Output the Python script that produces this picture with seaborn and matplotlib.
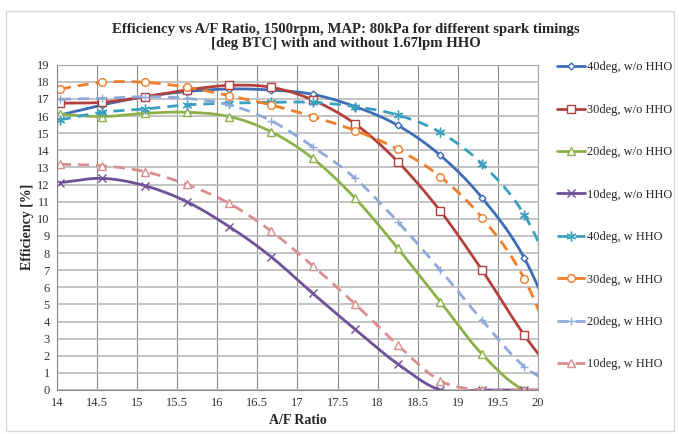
import numpy as np
import pandas as pd
import matplotlib
matplotlib.use("Agg")
import matplotlib.pyplot as plt
import seaborn as sns

# A/F ratio of each measurement (last point lies just past the axis end)
af_ratio = [14.04, 14.57, 15.10, 15.62, 16.15, 16.67, 17.19, 17.72, 18.25, 18.78, 19.30, 19.83, 20.36]

# Efficiency [%]
eff_40_wo = [16.06, 16.65, 17.13, 17.43, 17.58, 17.52, 17.27, 16.55, 15.46, 13.71, 11.23, 7.69, 2.0]
eff_30_wo = [16.75, 16.80, 17.13, 17.52, 17.79, 17.68, 16.94, 15.54, 13.34, 10.46, 7.01, 3.19, 0.0]
eff_20_wo = [16.10, 15.97, 16.16, 16.22, 15.97, 15.09, 13.53, 11.20, 8.28, 5.16, 2.10, 0.0, 0.0]
eff_10_wo = [12.11, 12.36, 11.93, 11.00, 9.54, 7.79, 5.65, 3.54, 1.52, 0.0, 0.0, 0.0, 0.0]
eff_40_w = [15.77, 16.22, 16.41, 16.65, 16.75, 16.80, 16.80, 16.55, 16.06, 15.05, 13.20, 10.22, 4.9]
eff_30_w = [17.58, 17.97, 17.97, 17.68, 17.19, 16.65, 15.97, 15.15, 14.06, 12.46, 10.07, 6.48, 0.5]
eff_20_w = [16.98, 17.03, 17.13, 17.03, 16.65, 15.73, 14.21, 12.36, 9.83, 7.01, 4.09, 1.36, 0.0]
eff_10_w = [13.18, 13.10, 12.75, 12.01, 10.90, 9.29, 7.26, 5.02, 2.63, 0.54, 0.0, 0.0, 0.0]

labels = ["40deg, w/o HHO", "30deg, w/o HHO", "20deg, w/o HHO", "10deg, w/o HHO",
          "40deg, w HHO", "30deg, w HHO", "20deg, w HHO", "10deg, w HHO"]
series = [eff_40_wo, eff_30_wo, eff_20_wo, eff_10_wo, eff_40_w, eff_30_w, eff_20_w, eff_10_w]
colors = ["#3E6DB5", "#B3403D", "#8DB14A", "#6E5197", "#3AA0BE", "#F07D2A", "#8EA9DB", "#D98E8E"]
markers = ["D", "s", "^", "x", (6, 2, 0), "o", "+", "^"]
msizes = [3.5, 5.5, 5.5, 6, 7, 5.5, 6, 5.5]
dashed = [False] * 4 + [True] * 4


def smooth(x, y, n=20):
    # Excel-style smoothed line (Catmull-Rom through the points)
    x = np.asarray(x, float)
    y = np.asarray(y, float)
    px = np.concatenate([[2 * x[0] - x[1]], x, [2 * x[-1] - x[-2]]])
    py = np.concatenate([[2 * y[0] - y[1]], y, [2 * y[-1] - y[-2]]])
    xs, ys = [], []
    t = np.linspace(0, 1, n, endpoint=False)
    for i in range(1, len(px) - 2):
        for p, out in ((px, xs), (py, ys)):
            p0, p1, p2, p3 = p[i - 1], p[i], p[i + 1], p[i + 2]
            out.extend(0.5 * ((2 * p1) + (-p0 + p2) * t
                              + (2 * p0 - 5 * p1 + 4 * p2 - p3) * t ** 2
                              + (-p0 + 3 * p1 - 3 * p2 + p3) * t ** 3))
    xs.append(x[-1])
    ys.append(y[-1])
    return np.array(xs), np.array(ys)


sns.set_style("whitegrid")
plt.rcParams["font.family"] = ["Liberation Serif", "DejaVu Serif"]

fig = plt.figure(figsize=(6.79, 4.34), dpi=100)
ax = fig.add_axes([0.0835, 0.1014, 0.709, 0.7496])

for lab, vals, col, mk, ms, dsh in zip(labels, series, colors, markers, msizes, dashed):
    sx, sy = smooth(af_ratio, vals)
    ls = (0, (4, 2.5)) if dsh else "-"
    sns.lineplot(x=sx, y=sy, ax=ax, color=col, lw=2, linestyle=ls, sort=False)
    filled = mk in ("x", "+") or isinstance(mk, tuple)
    df = pd.DataFrame({"af": af_ratio[:12], "eff": vals[:12]})
    ax.plot(df["af"], df["eff"], linestyle="none", marker=mk, ms=ms,
            mfc=col if filled else "white", mec=col, mew=1.0)
    # legend proxy
    ax.plot([], [], color=col, lw=2, linestyle=ls, marker=mk, ms=ms,
            mfc=col if filled else "white", mec=col, mew=1.0, label=lab)

ax.set_xlim(14, 20)
ax.set_ylim(0, 19)
ax.set_xticks(np.arange(14, 20.01, 0.5))
ax.set_xticklabels(["14", "14.5", "15", "15.5", "16", "16.5", "17", "17.5",
                    "18", "18.5", "19", "19.5", "20"])
ax.set_yticks(range(0, 20))
ax.tick_params(labelsize=9, colors="#333333", length=3, pad=2)
ax.grid(False)
ax.yaxis.grid(True, color="#BFBFBF", lw=1.3)
ax.xaxis.grid(True, color="#8C8C8C", lw=0.8)
ax.set_axisbelow(True)
for s in ["top", "right"]:
    ax.spines[s].set_color("#A6A6A6")
for s in ["left", "bottom"]:
    ax.spines[s].set_color("#888888")
ax.set_xlabel("A/F Ratio", fontsize=10, fontweight="bold", labelpad=4)
ax.set_ylabel("Efficiency [%]", fontsize=10, fontweight="bold", labelpad=2)

fig.suptitle("Efficiency vs A/F Ratio, 1500rpm, MAP: 80kPa for different spark timings\n"
             "[deg BTC] with and without 1.67lpm HHO",
             fontsize=10.6, fontweight="bold", x=0.51, y=0.948, va="top", linespacing=1.18)

h, l = ax.get_legend_handles_labels()
leg = ax.legend(h[-8:], l[-8:], loc="upper left", bbox_to_anchor=(1.03, 1.025),
                frameon=False, fontsize=8.9, handlelength=2.25, handletextpad=0.15,
                labelspacing=2.46, borderaxespad=0)

# outer chart border
fig.patches.append(plt.Rectangle((0.009, 0.007), 0.984, 0.968, transform=fig.transFigure,
                                 fill=False, edgecolor="#D9D9D9", lw=1))

fig.savefig("out.png", dpi=100)
